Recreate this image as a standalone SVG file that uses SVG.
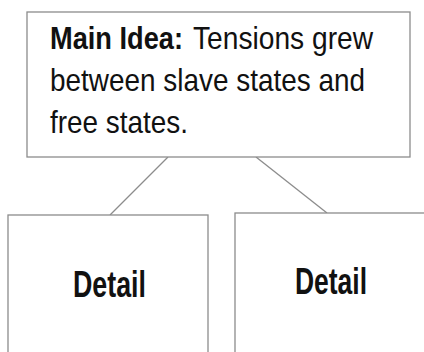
<svg xmlns="http://www.w3.org/2000/svg" width="424" height="352" viewBox="0 0 424 352">
<style>
.box{fill:#fff;stroke:#8c8c8c;stroke-width:1.3}
.conn{stroke:#8c8c8c;stroke-width:1.3;fill:none}
.t{font-family:"Liberation Sans",Arial,sans-serif;fill:#111}
.main{font-size:32px}
.b{font-weight:bold}
.det{font-size:36px;font-weight:bold}
</style>
<rect width="424" height="352" fill="#fff"/>
<g id="connectors">
<line class="conn" x1="168" y1="157" x2="110" y2="215"/>
<line class="conn" x1="256" y1="157" x2="327" y2="213"/>
</g>
<g id="main-idea">
<rect class="box" x="27" y="12" width="383" height="145"/>
<text class="t main b" x="50" y="49" textLength="133" lengthAdjust="spacingAndGlyphs">Main Idea:</text>
<text class="t main" x="193" y="49" textLength="180" lengthAdjust="spacingAndGlyphs">Tensions grew</text>
<text class="t main" x="50" y="91" textLength="315" lengthAdjust="spacingAndGlyphs">between slave states and</text>
<text class="t main" x="50" y="133" textLength="138" lengthAdjust="spacingAndGlyphs">free states.</text>
</g>
<g id="detail-1">
<rect class="box" x="8" y="215" width="200" height="150"/>
<text class="t det" x="73" y="297" textLength="73" lengthAdjust="spacingAndGlyphs">Detail</text>
</g>
<g id="detail-2">
<rect class="box" x="235" y="213" width="200" height="150"/>
<text class="t det" x="295" y="294" textLength="72" lengthAdjust="spacingAndGlyphs">Detail</text>
</g>
</svg>
